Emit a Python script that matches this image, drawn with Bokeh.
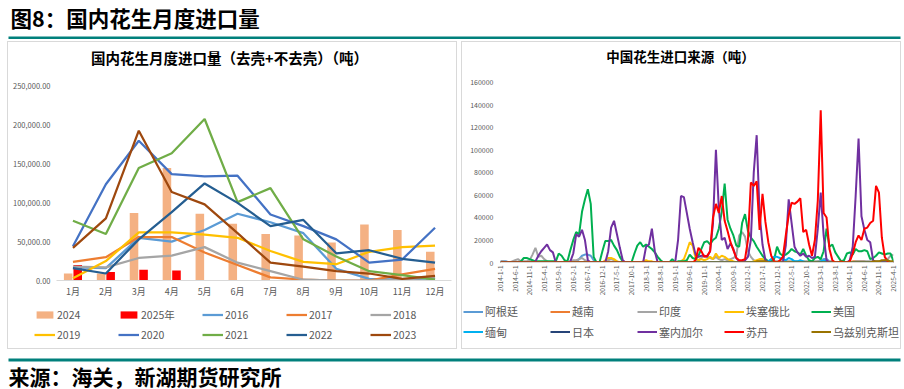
import math
from bokeh.plotting import figure
from bokeh.models import (FactorRange, Range1d, FixedTicker, Legend, LegendItem,
                          Label, BoxAnnotation, Spacer, ColumnDataSource, Column, Row)
from bokeh.transform import dodge
from bokeh.embed import file_html
from bokeh.resources import INLINE

FONT = "Noto Sans CJK SC"
TEAL = "#00807C"
TXT = "#595959"
BORDER = "#D9D9D9"

page_title = "图8：国内花生月度进口量"
source_text = "来源：海关，新湖期货研究所"

# ---------------- left chart data (thousand tonnes) ----------------
left_title = "国内花生月度进口量（去壳+不去壳）（吨）"
months = ["1月", "2月", "3月", "4月", "5月", "6月", "7月", "8月", "9月", "10月", "11月", "12月"]
left_y_ticks = [0, 50, 100, 150, 200, 250]
left_y_labels = ["0.00", "50,000.00", "100,000.00", "150,000.00", "200,000.00", "250,000.00"]
bars_2024 = [9, 9, 87, 145, 86, 73, 60, 58, 49, 72, 65, 37]
months_2025 = ["1月", "2月", "3月", "4月"]
bars_2025 = [20, 11, 14, 13]
y2016 = [17, 16, 55, 50, 65, 86, 75, 61, 15, 2, 1, 3]
y2017 = [24, 30, 56, 56, 36, 20, 4, 1, 0, 0, 8, 15]
y2018 = [18, 17, 29, 32, 43, 23, 12, 1, 0, 0, 1, 4]
y2019 = [3, 25, 62, 62, 59, 55, 38, 24, 21, 37, 43, 45]
y2020 = [44, 124, 180, 137, 134, 135, 85, 70, 53, 23, 27, 68]
y2021 = [77, 60, 145, 164, 208, 101, 119, 53, 31, 12, 7, 1]
y2022 = [16, 9, 53, 88, 125, 100, 70, 78, 35, 39, 28, 23]
y2023 = [42, 80, 193, 114, 98, 61, 23, 18, 12, 9, 2, 6]
bar_names = ["2024", "2025年"]
bar_colors = ["#F4B183", "#FF0000"]
line_years = ["2016", "2017", "2018", "2019", "2020", "2021", "2022", "2023"]
line_series = [y2016, y2017, y2018, y2019, y2020, y2021, y2022, y2023]
line_colors = ["#5B9BD5", "#ED7D31", "#A5A5A5", "#FFC000", "#4472C4", "#70AD47", "#255E91", "#9E480E"]

# ---------------- right chart data (thousand tonnes, monthly 2014-1 .. 2025-4) ----------------
right_title = "中国花生进口来源（吨）"
right_y_ticks = [0, 20, 40, 60, 80, 100, 120, 140, 160]
right_y_labels = ["0", "20000", "40000", "60000", "80000", "100000", "120000", "140000", "160000"]
date_ticks = [0, 5, 10, 15, 20, 25, 30, 35, 40, 45, 50, 55, 60, 65, 70, 75, 80, 85, 90, 95,
              100, 105, 110, 115, 120, 125, 130, 135]
date_labels = ["2014-1-1", "2014-6-1", "2014-11-1", "2015-4-1", "2015-9-1", "2016-2-1", "2016-7-1",
               "2016-12-1", "2017-5-1", "2017-10-1", "2018-3-1", "2018-8-1", "2019-1-1", "2019-6-1",
               "2019-11-1", "2020-4-1", "2020-9-1", "2021-2-1", "2021-7-1", "2021-12-1", "2022-5-1",
               "2022-10-1", "2023-3-1", "2023-8-1", "2024-1-1", "2024-6-1", "2024-11-1", "2025-4-1"]

argentina = [
    1, 1, 1, 0, 0, 0, 0, 0, 0, 0,
    0, 0, 0, 0, 0, 0, 0, 0, 0, 0,
    0, 0, 0, 0, 0, 0, 1, 3, 6, 7,
    7, 6, 2, 0, 0, 0, 0, 0, 0, 0,
    0, 0, 0, 0, 0, 0, 0, 0, 0, 0,
    0, 0, 0, 0, 0, 0, 0, 0, 0, 0,
    0, 0, 0, 0, 0, 0, 0, 0, 0, 0,
    0, 0, 0, 0, 0, 0, 0, 0, 0, 0,
    0, 0, 0, 0, 0, 0, 0, 0, 0, 0,
    0, 0, 0, 0, 0, 0, 0, 0, 0, 0,
    0, 0, 0, 0, 0, 0, 0, 0, 0, 1,
    2, 3, 3, 1, 0, 0, 0, 0, 0, 0,
    0, 0, 0, 0, 0, 0, 0, 0, 0, 0,
    0, 0, 0, 0, 0, 0]
vietnam = [
    0, 0, 0, 0, 0, 0, 0, 0, 0, 0,
    0, 0, 0, 0, 0, 0, 0, 0, 0, 0,
    0, 0, 0, 0, 0, 0, 0, 0, 0, 0,
    0, 0, 0, 0, 0, 0, 0, 0, 0, 0,
    0, 0, 0, 0, 0, 0, 0, 0, 0, 0,
    0, 0, 0, 0, 0, 0, 0, 0, 0, 0,
    0, 0, 0, 0, 0, 0, 0, 0, 0, 0,
    0, 0, 0, 0, 0, 0, 0, 0, 0, 0,
    0, 0, 0, 0, 0, 0, 0, 0, 0, 0,
    0, 0, 0, 0, 0, 0, 0, 0, 0, 0,
    0, 0, 0, 0, 0, 0, 0, 0, 0, 0,
    0, 0, 0, 0, 0, 0, 0, 0, 0, 0,
    0, 1, 1, 1, 1, 1, 0, 0, 0, 0,
    0, 0, 0, 0, 0, 0]
india = [
    1, 1, 0, 0, 1, 2, 3, 1, 1, 1,
    2, 7, 13, 5, 6, 3, 1, 0, 0, 0,
    0, 0, 0, 0, 1, 2, 2, 3, 4, 2,
    1, 0, 0, 0, 0, 0, 1, 2, 3, 2,
    1, 0, 0, 0, 0, 0, 0, 0, 0, 0,
    0, 0, 0, 0, 0, 0, 0, 0, 0, 0,
    0, 0, 0, 0, 0, 0, 0, 0, 2, 4,
    6, 5, 4, 3, 5, 3, 2, 3, 2, 3,
    4, 6, 24, 27, 23, 10, 5, 2, 1, 1,
    1, 1, 1, 1, 1, 1, 1, 1, 1, 1,
    1, 1, 1, 1, 1, 1, 1, 1, 1, 1,
    2, 2, 1, 1, 1, 0, 0, 0, 0, 0,
    0, 0, 1, 1, 1, 1, 1, 1, 1, 1,
    1, 1, 2, 3, 6, 7]
ethiopia = [
    0, 0, 0, 0, 0, 0, 0, 0, 0, 0,
    0, 0, 0, 0, 0, 0, 0, 0, 0, 0,
    0, 0, 0, 0, 0, 0, 0, 0, 0, 0,
    0, 0, 0, 0, 0, 0, 2, 4, 4, 3,
    1, 0, 0, 0, 0, 0, 0, 0, 0, 1,
    2, 1, 1, 0, 0, 0, 0, 0, 0, 0,
    0, 0, 1, 3, 10, 18, 15, 4, 2, 3,
    2, 3, 5, 3, 8, 4, 6, 5, 3, 2,
    1, 0, 0, 0, 0, 0, 0, 1, 2, 3,
    3, 2, 1, 0, 0, 0, 0, 0, 0, 0,
    0, 0, 0, 0, 0, 0, 0, 0, 0, 0,
    0, 0, 0, 0, 0, 0, 0, 0, 0, 0,
    0, 0, 0, 0, 0, 0, 0, 0, 0, 0,
    0, 0, 0, 0, 0, 0]
usa = [
    0, 0, 0, 0, 0, 0, 0, 1, 4, 4,
    3, 2, 1, 1, 1, 1, 1, 1, 1, 1,
    8, 6, 2, 1, 11, 20, 27, 25, 45, 56,
    65, 52, 5, 0, 0, 10, 19, 19, 20, 15,
    11, 5, 1, 0, 0, 0, 8, 15, 18, 14,
    16, 14, 12, 9, 5, 2, 0, 0, 0, 3,
    0, 1, 1, 1, 2, 7, 4, 3, 6, 12,
    18, 19, 16, 20, 22, 30, 45, 70, 38, 30,
    24, 15, 14, 35, 43, 28, 22, 19, 14, 10,
    6, 3, 1, 1, 3, 14, 8, 6, 7, 9,
    12, 10, 9, 7, 12, 6, 2, 1, 4, 5,
    3, 10, 30, 14, 16, 9, 5, 1, 2, 8,
    9, 7, 12, 10, 10, 11, 10, 3, 4, 6,
    9, 8, 7, 8, 8, 1]
myanmar = [
    0, 0, 0, 0, 0, 0, 0, 0, 0, 0,
    0, 0, 0, 0, 0, 0, 0, 0, 0, 0,
    0, 0, 0, 0, 0, 0, 0, 0, 0, 0,
    0, 0, 0, 0, 0, 0, 0, 0, 0, 0,
    0, 0, 0, 0, 0, 0, 0, 0, 0, 0,
    0, 0, 0, 0, 0, 0, 0, 0, 0, 0,
    0, 0, 0, 0, 0, 0, 0, 0, 0, 0,
    0, 0, 0, 0, 0, 0, 0, 0, 0, 0,
    0, 0, 0, 0, 0, 0, 0, 0, 0, 0,
    0, 0, 1, 3, 5, 5, 4, 3, 2, 4,
    3, 1, 1, 2, 1, 0, 0, 0, 0, 0,
    1, 2, 1, 0, 0, 0, 0, 0, 0, 0,
    0, 0, 0, 0, 0, 0, 0, 0, 0, 0,
    0, 0, 0, 0, 0, 0]
japan = [
    0, 0, 0, 0, 0, 0, 0, 0, 0, 0,
    0, 0, 0, 0, 0, 0, 0, 0, 0, 0,
    0, 0, 0, 0, 0, 0, 0, 0, 0, 0,
    0, 0, 0, 0, 0, 0, 0, 0, 0, 0,
    0, 0, 0, 0, 0, 0, 0, 0, 0, 0,
    0, 0, 0, 0, 0, 0, 0, 0, 0, 0,
    0, 0, 0, 0, 0, 0, 0, 0, 0, 0,
    0, 0, 0, 0, 0, 0, 0, 0, 0, 0,
    0, 0, 0, 0, 0, 0, 0, 0, 0, 0,
    0, 0, 0, 0, 0, 0, 0, 0, 0, 0,
    0, 0, 0, 0, 0, 0, 0, 0, 0, 0,
    0, 0, 0, 0, 0, 0, 0, 0, 0, 0,
    0, 0, 0, 0, 0, 0, 0, 0, 0, 0,
    0, 0, 0, 0, 0, 0]
senegal = [
    0, 0, 0, 0, 0, 0, 0, 0, 0, 0,
    0, 0, 1, 6, 10, 13, 16, 11, 9, 0,
    0, 0, 0, 0, 1, 8, 25, 23, 29, 20,
    2, 0, 0, 0, 0, 0, 0, 10, 31, 37,
    25, 13, 2, 0, 0, 0, 0, 0, 0, 0,
    14, 16, 30, 10, 0, 0, 0, 0, 0, 0,
    0, 20, 59, 58, 44, 30, 18, 7, 5, 6,
    6, 5, 10, 35, 100, 48, 20, 22, 12, 17,
    12, 4, 1, 0, 2, 5, 20, 80, 113, 43,
    16, 2, 0, 0, 0, 0, 0, 0, 15, 56,
    35, 14, 9, 6, 8, 5, 6, 4, 5, 30,
    62, 24, 2, 0, 0, 0, 0, 0, 0, 0,
    2, 14, 59, 110, 41, 29, 20, 18, 2, 0,
    0, 0, 0, 0, 0, 0]
sudan = [
    0, 0, 0, 0, 0, 0, 0, 0, 0, 0,
    0, 0, 0, 0, 0, 0, 0, 0, 0, 0,
    0, 0, 0, 0, 0, 0, 0, 0, 0, 0,
    0, 0, 0, 0, 0, 0, 0, 0, 0, 0,
    0, 0, 0, 0, 0, 0, 0, 0, 0, 0,
    0, 0, 0, 0, 0, 0, 0, 0, 0, 0,
    0, 0, 0, 0, 0, 0, 0, 2, 13, 10,
    5, 6, 10, 40, 52, 44, 59, 37, 28, 18,
    11, 4, 2, 2, 3, 20, 71, 68, 72, 29,
    61, 36, 18, 6, 1, 0, 2, 5, 24, 42,
    53, 52, 54, 57, 27, 29, 16, 6, 20, 55,
    135, 44, 40, 12, 2, 0, 0, 1, 0, 0,
    1, 8, 18, 24, 20, 30, 31, 35, 37, 68,
    62, 22, 5, 1, 0, 0]
uzbekistan = [
    0, 0, 0, 0, 0, 0, 0, 0, 0, 0,
    0, 0, 0, 0, 0, 0, 0, 0, 0, 0,
    0, 0, 0, 0, 0, 0, 0, 0, 0, 0,
    0, 0, 0, 0, 0, 0, 0, 0, 0, 0,
    0, 0, 0, 0, 0, 0, 0, 0, 0, 0,
    0, 0, 0, 0, 0, 0, 0, 0, 0, 0,
    0, 0, 0, 0, 0, 0, 0, 0, 0, 0,
    0, 0, 0, 0, 0, 0, 0, 0, 0, 0,
    0, 0, 0, 0, 0, 0, 0, 0, 1, 1,
    1, 1, 0, 0, 0, 0, 0, 0, 0, 0,
    0, 0, 0, 0, 0, 0, 0, 0, 0, 0,
    0, 0, 0, 0, 0, 0, 0, 0, 0, 0,
    0, 0, 0, 0, 0, 0, 0, 0, 1, 1,
    1, 2, 2, 2, 1, 1]
countries = ["阿根廷", "越南", "印度", "埃塞俄比", "美国", "缅甸", "日本", "塞内加尔", "苏丹", "乌兹别克斯坦"]
country_series = [argentina, vietnam, india, ethiopia, usa, myanmar, japan, senegal, sudan, uzbekistan]
country_colors = ["#5B9BD5", "#ED7D31", "#A5A5A5", "#FFC000", "#00B050",
                  "#00B0F0", "#264478", "#7030A0", "#FF0000", "#997300"]


def no_align(f):
    try:
        f.frame_align = False
    except Exception:
        pass
    return f


def blank(w, h):
    f = figure(width=w, height=h, x_range=Range1d(0, w), y_range=Range1d(0, h),
               x_axis_type=None, y_axis_type=None, min_border=0,
               min_border_left=0, min_border_right=0, min_border_top=0, min_border_bottom=0,
               outline_line_color=None, toolbar_location=None, output_backend="svg")
    f.grid.visible = False
    return no_align(f)


def make_legend(items, loc, gw, lw, fs):
    return Legend(items=items, location=loc, orientation="horizontal", padding=0, margin=0,
                  spacing=0, glyph_width=gw, glyph_height=9, label_width=lw, label_height=9,
                  label_standoff=2, label_text_font=FONT, label_text_font_size=fs,
                  label_text_color=TXT, background_fill_alpha=0, border_line_color=None)


# ---------------- top banner ----------------
W = 902
top = blank(W, 39)
top.add_layout(BoxAnnotation(left=8, right=900, bottom=0, top=3, fill_color=TEAL, fill_alpha=1,
                             line_color=None))
top.add_layout(Label(x=10, y=22.3, text=page_title, text_font=FONT, text_font_size="21.5px",
                     text_font_style="bold", text_baseline="middle", text_color="#000000"))

# ---------------- left chart ----------------
LW = 448
lt = blank(LW, 28)
lt.add_layout(Label(x=221, y=12.7, text=left_title, text_font=FONT, text_font_size="14.5px",
                    text_font_style="bold", text_align="center", text_baseline="middle",
                    text_color="#000000"))

lp = figure(width=LW, height=230, x_range=FactorRange(factors=months), y_range=Range1d(0, 270.5),
            output_backend="svg", toolbar_location=None,
            min_border_left=48, min_border_right=5, min_border_top=0, min_border_bottom=19,
            outline_line_color=None)
no_align(lp)
lp.grid.visible = False
src24 = ColumnDataSource(dict(m=months, v=bars_2024))
src25 = ColumnDataSource(dict(m=months_2025, v=bars_2025))
lp.vbar(x=dodge("m", -0.145, range=lp.x_range), top="v", width=0.26, source=src24,
        fill_color=bar_colors[0], line_color=None)
lp.vbar(x=dodge("m", 0.145, range=lp.x_range), top="v", width=0.26, source=src25,
        fill_color=bar_colors[1], line_color=None)
for ys, c in zip(line_series, line_colors):
    lp.line(x=months, y=ys, line_color=c, line_width=2.25)

lp.yaxis.ticker = FixedTicker(ticks=left_y_ticks)
lp.yaxis.major_label_overrides = dict(zip(left_y_ticks, left_y_labels))
lp.yaxis.axis_line_color = None
lp.yaxis.major_tick_line_color = None
lp.yaxis.minor_tick_line_color = None
lp.yaxis.major_tick_out = 0
lp.yaxis.major_label_standoff = 6
lp.yaxis.major_label_text_font = FONT
lp.yaxis.major_label_text_font_size = "7.5px"
lp.yaxis.major_label_text_color = TXT
lp.xaxis.axis_line_color = BORDER
lp.xaxis.major_tick_line_color = None
lp.xaxis.major_tick_out = 0
lp.xaxis.major_label_standoff = 4
lp.xaxis.major_label_text_font = FONT
lp.xaxis.major_label_text_font_size = "9px"
lp.xaxis.major_label_text_color = TXT

# legend strip; its proxies hold one point each, outside the strip's visible range
ll = blank(LW, 48)
legend_bars = [ll.vbar(x=[-50], top=[-50], width=1, fill_color=c, line_color=None) for c in bar_colors]
legend_lines = [ll.line(x=[-60, -50], y=[-50, -50], line_color=c, line_width=2.25) for c in line_colors]
left_items_1 = [LegendItem(label=bar_names[i], renderers=[legend_bars[i]]) for i in range(2)] + \
    [LegendItem(label=line_years[i], renderers=[legend_lines[i]]) for i in range(3)]
left_items_2 = [LegendItem(label=line_years[i], renderers=[legend_lines[i]]) for i in range(3, 8)]
ll.add_layout(make_legend(left_items_1, (26, 25.8), 21, 61, "10.5px"))
ll.add_layout(make_legend(left_items_2, (26, 5.8), 21, 61, "10.5px"))

left_panel = Column(children=[lt, lp, ll], styles={"border": "1px solid " + BORDER})

# ---------------- right chart ----------------
RW = 438
rt = blank(RW, 28)
rt.add_layout(Label(x=218, y=14.3, text=right_title, text_font=FONT, text_font_size="13.5px",
                    text_font_style="bold", text_align="center", text_baseline="middle",
                    text_color="#000000"))

rp = figure(width=RW, height=230, x_range=Range1d(0, 135), y_range=Range1d(0, 170.4),
            output_backend="svg", toolbar_location=None,
            min_border_left=38, min_border_right=7, min_border_top=0, min_border_bottom=38,
            outline_line_color=None)
no_align(rp)
rp.grid.visible = False
for ys, c in zip(country_series, country_colors):
    rp.line(x=list(range(len(ys))), y=ys, line_color=c, line_width=2)

rp.yaxis.ticker = FixedTicker(ticks=right_y_ticks)
rp.yaxis.major_label_overrides = dict(zip(right_y_ticks, right_y_labels))
rp.yaxis.axis_line_color = None
rp.yaxis.major_tick_line_color = None
rp.yaxis.minor_tick_line_color = None
rp.yaxis.major_tick_out = 0
rp.yaxis.major_label_standoff = 7
rp.yaxis.major_label_text_font = FONT
rp.yaxis.major_label_text_font_size = "7px"
rp.yaxis.major_label_text_color = TXT
rp.xaxis.ticker = FixedTicker(ticks=date_ticks)
rp.xaxis.major_label_overrides = dict(zip(date_ticks, date_labels))
rp.xaxis.major_label_orientation = math.pi / 2
rp.xaxis.axis_line_color = BORDER
rp.xaxis.major_tick_line_color = None
rp.xaxis.minor_tick_line_color = None
rp.xaxis.major_tick_out = 0
rp.xaxis.major_label_standoff = 3
rp.xaxis.major_label_text_font = FONT
rp.xaxis.major_label_text_font_size = "6.5px"
rp.xaxis.major_label_text_color = TXT

rl = blank(RW, 48)
legend_country = [rl.line(x=[-60, -50], y=[-50, -50], line_color=c, line_width=2) for c in country_colors]
right_items_1 = [LegendItem(label=countries[i], renderers=[legend_country[i]]) for i in range(5)]
right_items_2 = [LegendItem(label=countries[i], renderers=[legend_country[i]]) for i in range(5, 10)]
rl.add_layout(make_legend(right_items_1, (1, 28.7), 20, 65, "11px"))
rl.add_layout(make_legend(right_items_2, (1, 8.1), 20, 65, "11px"))

right_panel = Column(children=[rt, rp, rl], styles={"border": "1px solid " + BORDER})

# ---------------- bottom banner ----------------
bottom = blank(W, 40)
bottom.add_layout(BoxAnnotation(left=8, right=900, bottom=28, top=31, fill_color=TEAL, fill_alpha=1,
                                line_color=None))
bottom.add_layout(Label(x=8, y=14, text=source_text, text_font=FONT, text_font_size="21px",
                        text_font_style="bold", text_baseline="middle", text_color="#000000"))

middle = Row(children=[Spacer(width=7, height=308), left_panel, Spacer(width=4, height=308), right_panel])
layout = Column(children=[top, Spacer(width=W, height=2), middle, bottom])

open("out.html", "w").write(file_html(layout, INLINE))
